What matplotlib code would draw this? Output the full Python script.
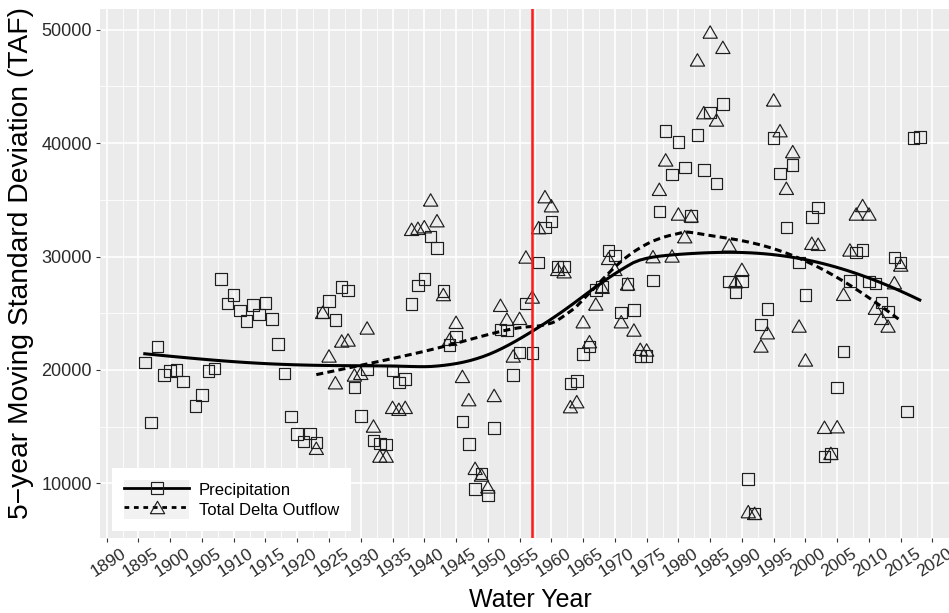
import numpy as np
import matplotlib
matplotlib.use("Agg")
import matplotlib.pyplot as plt
from matplotlib.lines import Line2D
from matplotlib.patches import Rectangle
from matplotlib.legend_handler import HandlerLine2D
from matplotlib.transforms import ScaledTranslation

plt.rcParams['font.family'] = ['Liberation Sans', 'DejaVu Sans']

# ---------------- data ----------------
precip_years = [1896, 1897, 1898, 1899, 1900, 1901, 1902, 1904, 1905, 1906, 1907, 1908, 1909,
                1910, 1911, 1912, 1913, 1914, 1915, 1916, 1917, 1918, 1919, 1920, 1921, 1922,
                1923, 1924, 1925, 1926, 1927, 1928, 1929, 1930, 1931, 1932, 1933, 1934, 1935,
                1936, 1937, 1938, 1939, 1940, 1941, 1942, 1943, 1944, 1945, 1946, 1947, 1948,
                1949, 1950, 1951, 1952, 1953, 1954, 1955, 1956, 1957, 1958, 1959, 1960, 1961,
                1962, 1963, 1964, 1965, 1966, 1967, 1968, 1969, 1970, 1971, 1972, 1973, 1974,
                1975, 1976, 1977, 1978, 1979, 1980, 1981, 1982, 1983, 1984, 1985, 1986, 1987,
                1988, 1989, 1990, 1991, 1992, 1993, 1994, 1995, 1996, 1997, 1998, 1999, 2000,
                2001, 2002, 2003, 2004, 2005, 2006, 2007, 2008, 2009, 2010, 2011, 2012, 2013,
                2014, 2015, 2016, 2017, 2018]
precip_sd = [20670, 15380, 22050, 19550, 19900, 19990, 18960, 16820, 17790, 19900, 20140, 28000, 25850,
             26600, 25260, 24330, 25730, 24880, 25900, 24490, 22270, 19700, 15870, 14330, 13670, 14410,
             13580, 25080, 26100, 24400, 27290, 26990, 18430, 15950, 20050, 13760, 13500, 13440, 19960,
             18870, 19200, 25810, 27460, 28000, 31750, 30730, 26960, 22200, 22930, 15460, 13470, 9500,
             10880, 8940, 14870, 23580, 23490, 19550, 21550, 25850, 21470, 29490, 32550, 33080, 29100,
             29100, 18820, 19020, 21400, 22050, 27050, 27340, 30520, 30070, 25080, 27580, 25290, 21230,
             21230, 27870, 33960, 41070, 37250, 40080, 37840, 33580, 40720, 37610, 42690, 36460, 43430,
             27780, 26850, 27780, 10380, 7350, 24020, 25370, 40430, 37340, 32550, 38070, 29490, 26610,
             33490, 34310, 12350, 12640, 18430, 21610, 27840, 30340, 30580, 27780, 27640, 25930, 25140,
             29900, 29490, 16320, 40430, 40520]

outflow_years = list(range(1923, 2016))
outflow_sd = [13090, 25080, 21230, 18870, 22550, 22640, 19550, 19700, 23700, 15050, 12400, 12400,
              16700, 16530, 16700, 32400, 32490, 32630, 34990, 33160, 26650, 22700, 24200, 19430,
              17380, 11320, 10730, 9680, 17750, 25700, 24480, 21230, 24550, 29960, 26430, 32550,
              35280, 34480, 28870, 28660, 16760, 17200, 24250, 22490, 25810, 27290, 29840, 28870,
              24250, 27580, 23520, 21820, 21760, 29990, 35930, 38520, 30050, 33750, 31750, 33580,
              47340, 42690, 49800, 42040, 48450, 31020, 27780, 28870, 7500, 7350, 22110, 23280,
              43810, 41100, 36020, 39250, 23870, 20880, 31170, 31080, 14940, 12640, 14990, 26670,
              30580, 33750, 34500, 33750, 25440, 24550, 23870, 27690, 29250]

split_year = 1957
x_ticks = list(range(1890, 2021, 5))
y_ticks = [10000, 20000, 30000, 40000, 50000]
series_names = ["Precipitation", "Total Delta Outflow"]


def loess(x, y, xs, span=0.75):
    x = np.asarray(x, float); y = np.asarray(y, float)
    n = len(x); q = int(np.floor(n * span))
    out = []
    for x0 in xs:
        d = np.abs(x - x0)
        h = np.sort(d)[q - 1]
        w = np.clip(1 - (d / h) ** 3, 0, None) ** 3
        X = np.vstack([np.ones_like(x), x - x0, (x - x0) ** 2]).T
        W = np.sqrt(w)
        beta, *_ = np.linalg.lstsq(X * W[:, None], y * W, rcond=None)
        out.append(beta[0])
    return np.array(out)


W_PX, H_PX = 949, 613
fig = plt.figure(figsize=(W_PX / 100, H_PX / 100), dpi=100)
L, R, T, B = 100, 949, 9, 538
ax = fig.add_axes([L / W_PX, (H_PX - B) / H_PX, (R - L) / W_PX, (B - T) / H_PX])
ax.set_facecolor('#EBEBEB')
for s in ax.spines.values():
    s.set_visible(False)

ax.set_xlim(1888.95, 2022.6)
ax.set_ylim(5175, 51830)
ax.set_xticks(x_ticks)
ax.set_xticks([t + 2.5 for t in x_ticks[:-1]], minor=True)
ax.set_yticks(y_ticks)
ax.set_yticks([15000, 25000, 35000, 45000], minor=True)
ax.grid(which='major', color='white', lw=1.2)
ax.grid(which='minor', color='white', lw=0.6)
ax.set_axisbelow(True)
ax.tick_params(which='minor', length=0)
ax.tick_params(which='major', length=3.2, width=0.8, color='#333333', labelcolor='#2b2b2b')
ax.tick_params(axis='y', pad=2.5, labelsize=13)
ax.tick_params(axis='x', pad=14.5, labelsize=12.5)
ax.set_yticklabels([str(v) for v in y_ticks])
ax.set_xticklabels([str(v) for v in x_ticks])
off = ScaledTranslation(2 / 100, 0, fig.dpi_scale_trans)
for lab in ax.get_xticklabels():
    lab.set_rotation(33)
    lab.set_rotation_mode('anchor')
    lab.set_ha('center')
    lab.set_va('center')
    lab.set_transform(lab.get_transform() + off)

tri = [(-1, -0.866), (1, -0.866), (0, 0.866), (-1, -0.866)]
edge = '#1e1e1e'

ax.scatter(precip_years, precip_sd, marker='s', s=8.3 ** 2, facecolors='none',
           edgecolors=edge, linewidths=0.85, zorder=3)
ax.scatter(outflow_years, outflow_sd, marker=tri, s=10.3 ** 2, facecolors='none',
           edgecolors=edge, linewidths=0.85, zorder=3)

xs_p = np.linspace(min(precip_years), max(precip_years), 120)
xs_o = np.linspace(min(outflow_years), max(outflow_years), 120)
ax.plot(xs_p, loess(precip_years, precip_sd, xs_p), color='black', lw=2.2, zorder=4)
ax.plot(xs_o, loess(outflow_years, outflow_sd, xs_o), color='black', lw=2.2,
        dashes=(2.3, 1.4), zorder=4)
ax.axvline(split_year, color='#FF1A1A', lw=1.8, zorder=5)


class KeyHandler(HandlerLine2D):
    def create_artists(self, legend, orig_handle, xdescent, ydescent, width, height,
                       fontsize, trans):
        arts = super().create_artists(legend, orig_handle, xdescent, ydescent, width,
                                      height, fontsize, trans)
        rect = Rectangle((-xdescent, -ydescent), width, height, facecolor='#F2F2F2',
                         edgecolor='none', transform=trans)
        return [rect] + list(arts)


h1 = Line2D([], [], color='black', lw=2.0, marker='s', ms=8.3, mfc='none', mec=edge, mew=0.85)
h2 = Line2D([], [], color='black', lw=2.0, dashes=(1.7, 1.7), marker=tri, ms=10.3, mfc='none',
            mec=edge, mew=0.85)
leg = ax.legend([h1, h2], series_names, loc='lower left',
                bbox_to_anchor=((112 - L) / (R - L), (B - 531) / (B - T)), borderaxespad=0,
                frameon=True, fancybox=False, framealpha=1, facecolor='white', edgecolor='none',
                fontsize=12, handlelength=3.9, handleheight=1.42, labelspacing=0.0,
                handletextpad=0.6, borderpad=0.72, numpoints=1,
                handler_map={Line2D: KeyHandler()})
leg.set_zorder(10)

fig.text(530 / W_PX, 1 - 600 / H_PX, "Water Year", ha='center', va='center', fontsize=18,
         color='black')
fig.text(21 / W_PX, 1 - 263 / H_PX, "5\u2212year Moving Standard Deviation (TAF)",
         rotation=90, ha='center', va='center', fontsize=20.3, color='black')

fig.savefig('out.png', dpi=100)
